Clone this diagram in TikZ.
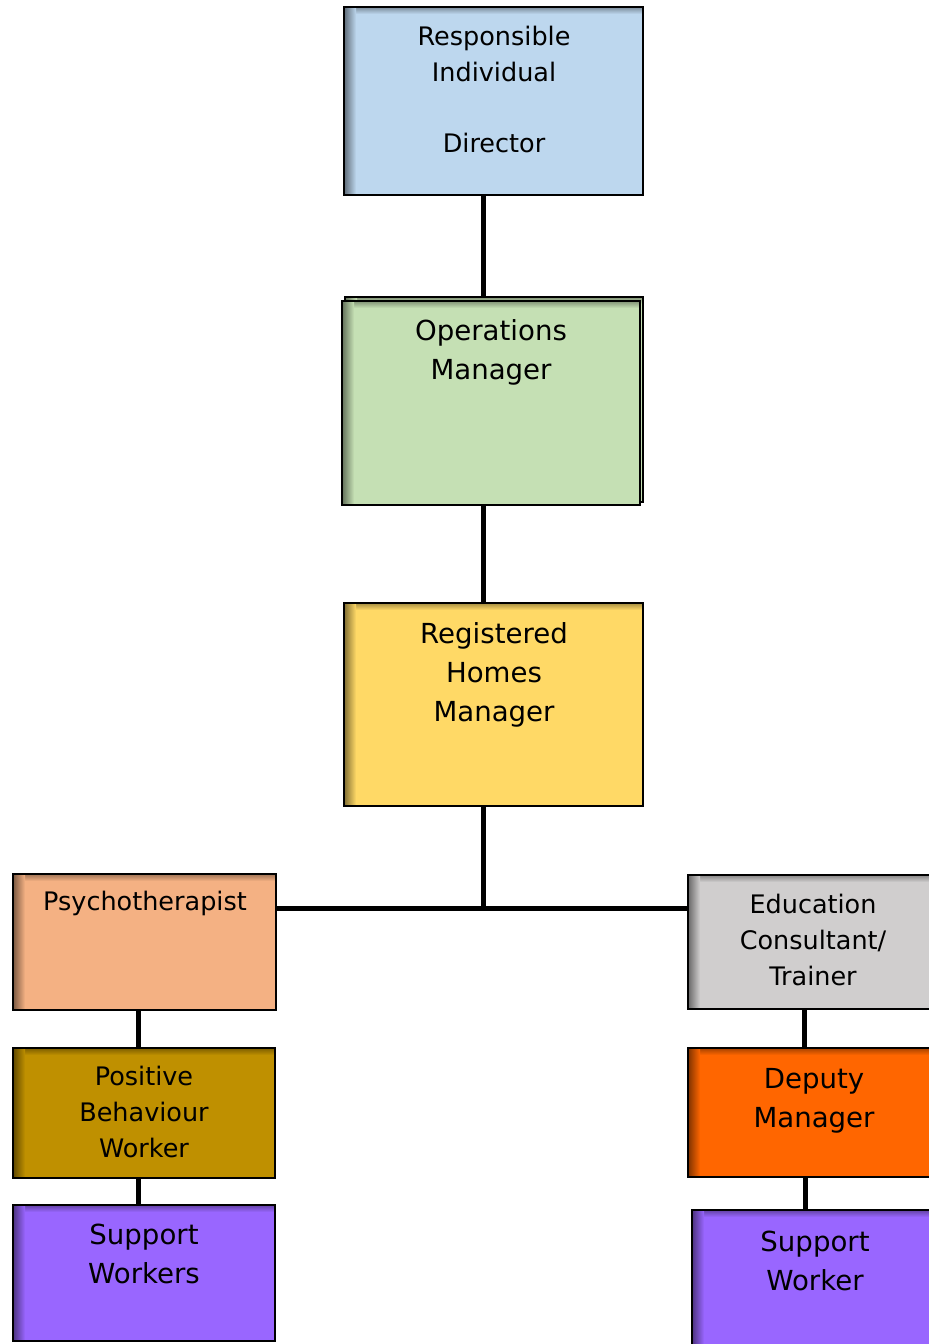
\documentclass[tikz,border=0pt]{standalone}
\usepackage{fontspec}
\setmainfont{DejaVu Sans}
\definecolor{riblue}{HTML}{BDD7EE}
\definecolor{opsgreen}{HTML}{C5E0B4}
\definecolor{rhmyellow}{HTML}{FFD966}
\definecolor{psyorange}{HTML}{F4B183}
\definecolor{edugray}{HTML}{D0CECE}
\definecolor{pbwgold}{HTML}{BF9000}
\definecolor{deporange}{HTML}{FF6600}
\definecolor{swpurple}{HTML}{9966FF}
\newcommand\orgbox[6]{%
  \node[box, fill=#6, minimum width=#4pt, minimum height=#5pt] (#1) at (#2,#3) {};
  \shade[top color=#6!65!black, bottom color=#6] (#1.north west) rectangle ([yshift=-7pt]#1.north east);
  \shade[left color=#6!50!black, right color=#6] (#1.north west) rectangle ([xshift=12pt]#1.south west);
  \draw[frame] (#1.north west) rectangle (#1.south east);}
\begin{document}
\begin{tikzpicture}[x=1pt,y=-1pt,
  box/.style={rectangle, inner sep=0pt, outer sep=0pt, anchor=north west},
  lbl/.style={anchor=north, inner sep=0pt, align=center, text=black},
  small/.style={font=\fontsize{25.5}{36}\selectfont},
  big/.style={font=\fontsize{27.6}{39}\selectfont},
  conn/.style={line width=5pt, black},
  frame/.style={draw=black, line width=2pt}]
\path[use as bounding box] (0,0) rectangle (929,1344);
\clip (0,0) rectangle (929,1344);

% boxes
\orgbox{ri}{344}{7}{299}{188}{riblue}
\orgbox{opsback}{345}{297}{298}{205}{opsgreen}
\orgbox{ops}{342}{301}{298}{204}{opsgreen}
\orgbox{rhm}{344}{603}{299}{203}{rhmyellow}
\orgbox{psy}{13}{874}{263}{136}{psyorange}
\orgbox{edu}{688}{875}{250}{134}{edugray}
\orgbox{pbw}{13}{1048}{262}{130}{pbwgold}
\orgbox{dep}{688}{1048}{250}{129}{deporange}
\orgbox{swl}{13}{1205}{262}{136}{swpurple}
\orgbox{swr}{692}{1210}{246}{150}{swpurple}

% labels
\node[lbl, font=\fontsize{25.5}{35.5}\selectfont] (ri-t) at (494,26) {Responsible\\Individual\\[35.5pt]Director};
\node[lbl, big] (ops-t) at (491,319) {Operations\\Manager};
\node[lbl, big] (rhm-t) at (494,622) {Registered\\Homes\\Manager};
\node[lbl, small] (psy-t) at (145,891) {Psychotherapist};
\node[lbl, small] (edu-t) at (813,894) {Education\\Consultant/\\Trainer};
\node[lbl, small] (pbw-t) at (144,1066) {Positive\\Behaviour\\Worker};
\node[lbl, big] (dep-t) at (814,1068) {Deputy\\Manager};
\node[lbl, big] (swl-t) at (144,1224) {Support\\Workers};
\node[lbl, big] (swr-t) at (815,1231) {Support\\Worker};

% connectors
\coordinate (trunk) at (483,0);
\coordinate (hub) at (483,908);
\coordinate (lcol) at (138,0);
\coordinate (rcol) at (804,0);
\coordinate (rcol2) at (805,0);
\draw[conn] (trunk |- ri.south) -- (trunk |- opsback.north);
\draw[conn] (trunk |- ops.south) -- (trunk |- rhm.north);
\draw[conn] (trunk |- rhm.south) -- (hub);
\draw[conn] (psy.east |- hub) -- (edu.west |- hub);
\draw[conn] (lcol |- psy.south) -- (lcol |- pbw.north);
\draw[conn] (lcol |- pbw.south) -- (lcol |- swl.north);
\draw[conn] (rcol |- edu.south) -- (rcol |- dep.north);
\draw[conn] (rcol2 |- dep.south) -- (rcol2 |- swr.north);
\end{tikzpicture}
\end{document}
